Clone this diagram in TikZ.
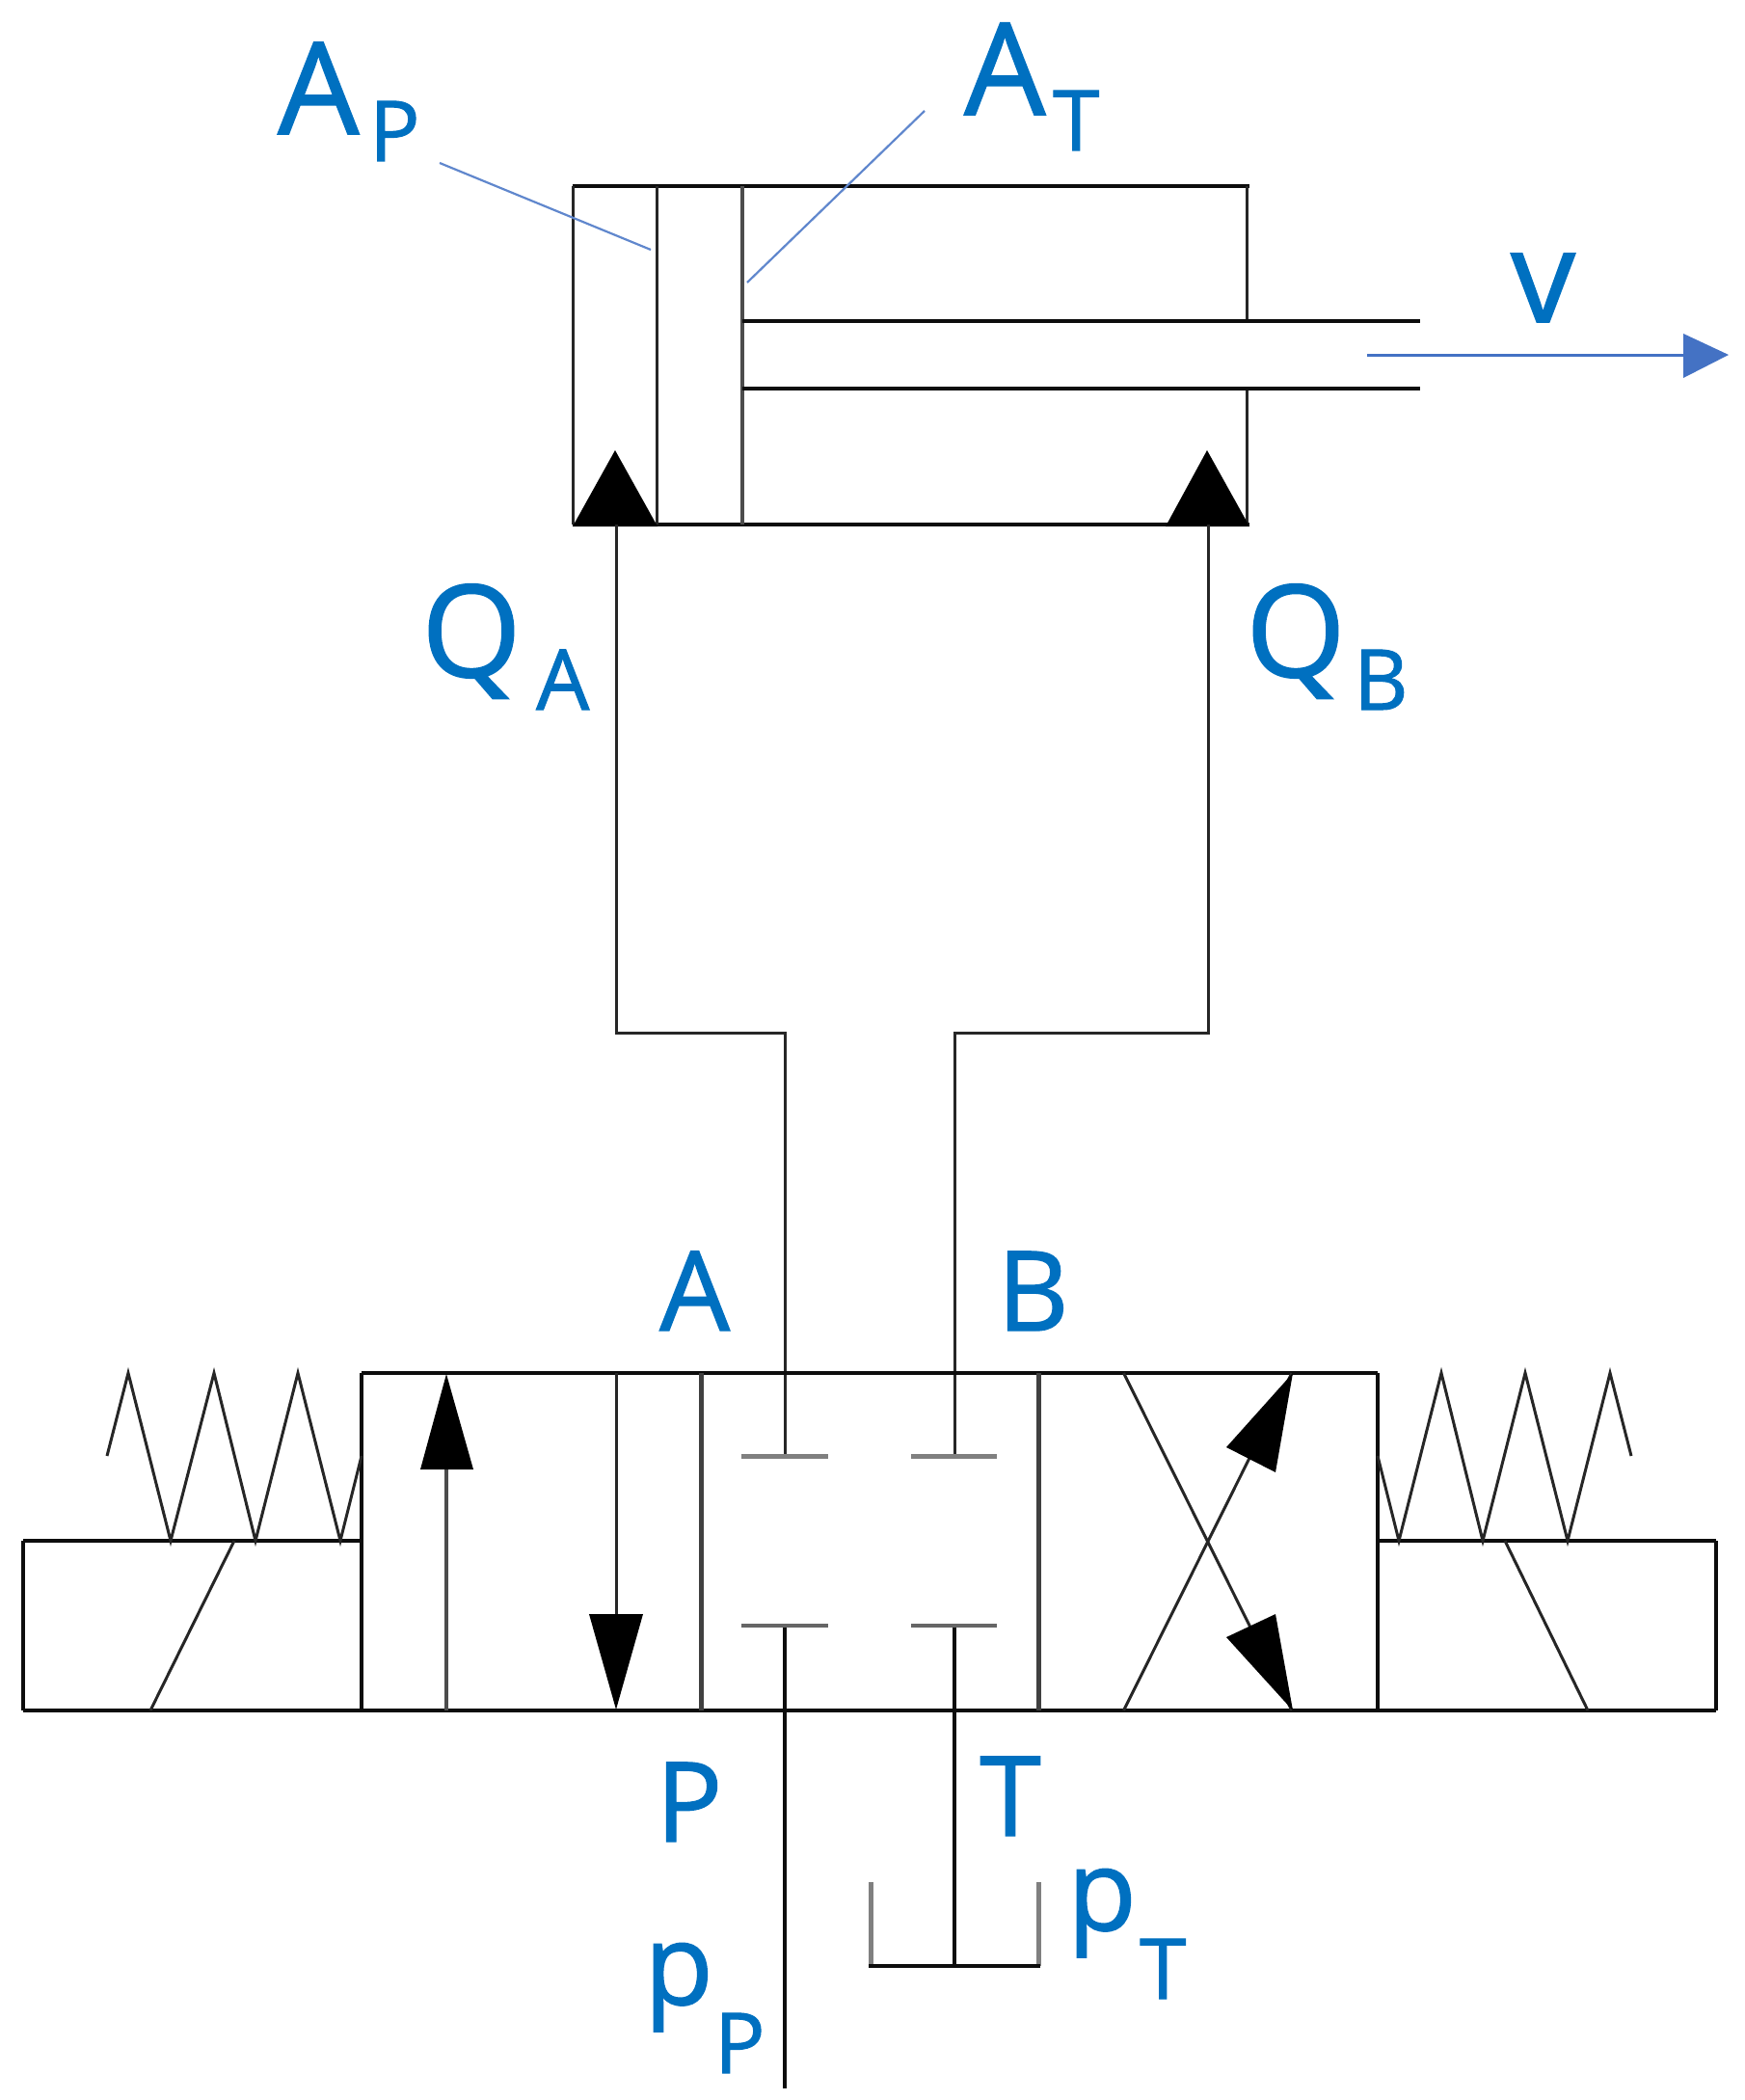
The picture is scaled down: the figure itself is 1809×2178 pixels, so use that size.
\documentclass[tikz,border=0pt]{standalone}
\usepackage{fontspec}
\setmainfont{Open Sans}[FakeBold=1.2]
\definecolor{lbl}{HTML}{0070C0}
\definecolor{lead}{HTML}{4472C4}
\tikzset{
  ln/.style={line width=3.6pt,black!95,line cap=butt,line join=miter},
  thin ln/.style={line width=3pt,black!85},
  heavy/.style={line width=5pt,black!75},
  soft/.style={line width=5pt,black!50},
  tip/.style={fill=black,draw=none},
  leader/.style={line width=2.2pt,lead!85},
  big/.style={text=lbl,inner sep=0pt,anchor=base west,font=\fontsize{133}{133}\selectfont},
  pee/.style={text=lbl,inner sep=0pt,anchor=base west,font=\fontsize{117}{117}\selectfont},
  mid/.style={text=lbl,inner sep=0pt,anchor=base west,font=\fontsize{115}{115}\selectfont},
  small/.style={text=lbl,inner sep=0pt,anchor=base west,font=\fontsize{87}{87}\selectfont},
}
\begin{document}
\begin{tikzpicture}[x=1pt,y=-1pt]
\useasboundingbox (0,0) rectangle (1809,2178);
% named points
\coordinate (qaT) at (639,544); \coordinate (qaK) at (639,1071);
\coordinate (qaV) at (814,1071); \coordinate (stubA) at (814,1510);
\coordinate (qbT) at (1253,544); \coordinate (qbK) at (1253,1071);
\coordinate (qbV) at (990,1071); \coordinate (stubB) at (990,1510);
\coordinate (stubP) at (814,1686); \coordinate (endP) at (814,2166);
\coordinate (stubT) at (990,1686); \coordinate (tank) at (990,2039);
% cylinder
\draw[ln] (594,193) -- (1296,193);
\draw[ln] (594,544) -- (1296,544);
\draw[thin ln] (594,193) -- (594,544);
\draw[thin ln] (681,193) -- (681,544);
\draw[line width=4pt,black!70] (770,193) -- (770,544);
\draw[thin ln] (1293,193) -- (1293,333);
\draw[thin ln] (1293,403) -- (1293,544);
\draw[ln] (770,333) -- (1473,333);
\draw[ln] (770,403) -- (1473,403);
\fill[tip] (638,467) -- (682,546) -- (594,546) -- cycle;
\fill[tip] (1252,467) -- (1296,546) -- (1209,546) -- cycle;
% pipes
\draw[thin ln] (qaT) -- (qaK) -- (qaV) -- (stubA);
\draw[thin ln] (qbT) -- (qbK) -- (qbV) -- (stubB);
\draw[ln] (stubP) -- (endP);
\draw[ln] (stubT) -- (tank);
% valve
\draw[ln] (375,1424) -- (1429,1424);
\draw[ln] (24,1774) -- (1780,1774);
\draw[ln] (24,1598) -- (375,1598);
\draw[ln] (1429,1598) -- (1780,1598);
\draw[ln] (24,1598) -- (24,1774);
\draw[ln] (1780,1598) -- (1780,1774);
\draw[ln] (375,1424) -- (375,1774);
\draw[ln] (1429,1424) -- (1429,1774);
\draw[heavy] (727,1424) -- (727,1774);
\draw[heavy] (1077,1424) -- (1077,1774);
% closed ports
\draw[soft] (769,1510) -- (859,1510);
\draw[soft] (945,1510) -- (1034,1510);
\draw[line width=4pt,black!60] (769,1686) -- (859,1686);
\draw[line width=4pt,black!60] (945,1686) -- (1034,1686);
% left position arrows
\draw[line width=4pt,black!70] (463,1774) -- (463,1523);
\fill[tip] (463,1425) -- (491,1524) -- (436,1524) -- cycle;
\draw[thin ln] (639,1424) -- (639,1674);
\fill[tip] (639,1773) -- (667,1674) -- (611,1674) -- cycle;
% crossed arrows
\draw[thin ln] (1165.5,1424) -- (1340,1774);
\draw[thin ln] (1165.5,1774) -- (1340,1424);
\fill[tip] (1341,1424) -- (1272,1501) -- (1323,1527) -- cycle;
\fill[tip] (1341,1774) -- (1272,1698) -- (1323,1674) -- cycle;
% springs
\draw[thin ln] (111,1510) -- (133,1424) -- (177,1598) -- (222,1424) -- (265,1598) -- (309,1424) -- (353,1598) -- (375,1510);
\draw[thin ln] (1429,1510) -- (1451,1598) -- (1495,1424) -- (1538,1598) -- (1582,1424) -- (1626,1598) -- (1670,1424) -- (1692,1510);
% solenoids
\draw[thin ln] (156,1774) -- (243,1598);
\draw[thin ln] (1561,1598) -- (1647,1774);
% tank
\draw[soft] (903,1952) -- (903,2039);
\draw[soft] (1077,1952) -- (1077,2039);
\draw[ln] (901,2039) -- (1079,2039);
% leaders and velocity
\coordinate (ldA1) at (456,169); \coordinate (ldA2) at (675,259);
\coordinate (ldT1) at (959,115); \coordinate (ldT2) at (775,293);
\coordinate (vS) at (1418,368); \coordinate (vE) at (1750,368);
\draw[leader] (ldA1) -- (ldA2);
\draw[leader] (ldT1) -- (ldT2);
\draw[line width=3pt,lead] (vS) -- (vE);
\fill[lead] (1793,368) -- (1746,346) -- (1746,392) -- cycle;
% labels
\node[big] (lAp) at (288,139) {A};
\node[small] (lApS) at (383,167) {P};
\node[big] (lAt) at (1000,119) {A};
\node[small] (lAtS) at (1092,156) {T};
\node[big] (lv) at (1567,334) {v};
\node[big] (lQa) at (437,702) {Q};
\node[small] (lQaS) at (556,736) {A};
\node[big] (lQb) at (1292,702) {Q};
\node[small] (lQbS) at (1404,736) {B};
\node[mid] (lA) at (684,1380) {A};
\node[mid] (lB) at (1034,1380) {B};
\node[mid] (lP) at (680,1910) {P};
\node[mid] (lT) at (1016,1904) {T};
\node[pee] (lpp) at (668,2079) {p};
\node[small] (lppS) at (741,2150) {P};
\node[pee] (lpt) at (1107,2002) {p};
\node[small] (lptS) at (1182,2073) {T};
\end{tikzpicture}
\end{document}
